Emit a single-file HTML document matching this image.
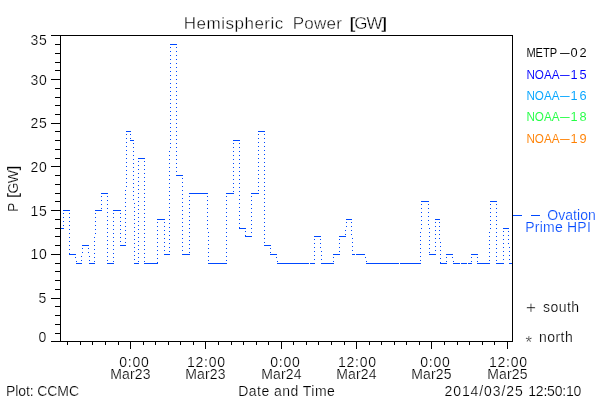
<!DOCTYPE html><html><head><meta charset="utf-8"><title>Hemispheric Power</title>
<style>html,body{margin:0;padding:0;background:#fff}svg{display:block;will-change:transform}text{font-family:"Liberation Sans",sans-serif;}</style></head><body>
<svg width="600" height="400" viewBox="0 0 600 400">
<rect width="600" height="400" fill="#fff"/>
<g shape-rendering="crispEdges" fill="#000">
<rect x="51" y="35" width="462" height="1"/>
<rect x="51" y="341" width="462" height="1"/>
<rect x="60" y="35" width="1" height="307"/>
<rect x="512" y="35" width="1" height="307"/>
<rect x="51" y="341" width="9" height="1"/>
<rect x="55" y="333" width="5" height="1"/>
<rect x="55" y="324" width="5" height="1"/>
<rect x="55" y="315" width="5" height="1"/>
<rect x="55" y="306" width="5" height="1"/>
<rect x="51" y="298" width="9" height="1"/>
<rect x="55" y="289" width="5" height="1"/>
<rect x="55" y="280" width="5" height="1"/>
<rect x="55" y="271" width="5" height="1"/>
<rect x="55" y="263" width="5" height="1"/>
<rect x="51" y="254" width="9" height="1"/>
<rect x="55" y="245" width="5" height="1"/>
<rect x="55" y="236" width="5" height="1"/>
<rect x="55" y="228" width="5" height="1"/>
<rect x="55" y="219" width="5" height="1"/>
<rect x="51" y="210" width="9" height="1"/>
<rect x="55" y="201" width="5" height="1"/>
<rect x="55" y="193" width="5" height="1"/>
<rect x="55" y="184" width="5" height="1"/>
<rect x="55" y="175" width="5" height="1"/>
<rect x="51" y="166" width="9" height="1"/>
<rect x="55" y="158" width="5" height="1"/>
<rect x="55" y="149" width="5" height="1"/>
<rect x="55" y="140" width="5" height="1"/>
<rect x="55" y="131" width="5" height="1"/>
<rect x="51" y="123" width="9" height="1"/>
<rect x="55" y="114" width="5" height="1"/>
<rect x="55" y="105" width="5" height="1"/>
<rect x="55" y="97" width="5" height="1"/>
<rect x="55" y="88" width="5" height="1"/>
<rect x="51" y="79" width="9" height="1"/>
<rect x="55" y="70" width="5" height="1"/>
<rect x="55" y="62" width="5" height="1"/>
<rect x="55" y="53" width="5" height="1"/>
<rect x="55" y="44" width="5" height="1"/>
<rect x="51" y="35" width="9" height="1"/>
<rect x="67" y="341" width="1" height="4"/>
<rect x="80" y="341" width="1" height="4"/>
<rect x="92" y="341" width="1" height="4"/>
<rect x="105" y="341" width="1" height="4"/>
<rect x="118" y="341" width="1" height="4"/>
<rect x="130" y="341" width="1" height="8"/>
<rect x="143" y="341" width="1" height="4"/>
<rect x="155" y="341" width="1" height="4"/>
<rect x="168" y="341" width="1" height="4"/>
<rect x="180" y="341" width="1" height="4"/>
<rect x="193" y="341" width="1" height="4"/>
<rect x="205" y="341" width="1" height="8"/>
<rect x="218" y="341" width="1" height="4"/>
<rect x="231" y="341" width="1" height="4"/>
<rect x="243" y="341" width="1" height="4"/>
<rect x="256" y="341" width="1" height="4"/>
<rect x="268" y="341" width="1" height="4"/>
<rect x="281" y="341" width="1" height="8"/>
<rect x="293" y="341" width="1" height="4"/>
<rect x="306" y="341" width="1" height="4"/>
<rect x="318" y="341" width="1" height="4"/>
<rect x="331" y="341" width="1" height="4"/>
<rect x="344" y="341" width="1" height="4"/>
<rect x="356" y="341" width="1" height="8"/>
<rect x="369" y="341" width="1" height="4"/>
<rect x="381" y="341" width="1" height="4"/>
<rect x="394" y="341" width="1" height="4"/>
<rect x="406" y="341" width="1" height="4"/>
<rect x="419" y="341" width="1" height="4"/>
<rect x="431" y="341" width="1" height="8"/>
<rect x="444" y="341" width="1" height="4"/>
<rect x="457" y="341" width="1" height="4"/>
<rect x="469" y="341" width="1" height="4"/>
<rect x="482" y="341" width="1" height="4"/>
<rect x="494" y="341" width="1" height="4"/>
<rect x="507" y="341" width="1" height="8"/>
</g>
<g shape-rendering="crispEdges" fill="#0048ff" stroke="#0048ff" stroke-width="1">
<rect x="61" y="228" width="3" height="1" stroke="none"/>
<rect x="63" y="210" width="7" height="1" stroke="none"/>
<rect x="69" y="254" width="7" height="1" stroke="none"/>
<rect x="76" y="263" width="6" height="1" stroke="none"/>
<rect x="82" y="245" width="7" height="1" stroke="none"/>
<rect x="89" y="263" width="6" height="1" stroke="none"/>
<rect x="95" y="210" width="7" height="1" stroke="none"/>
<rect x="101" y="193" width="7" height="1" stroke="none"/>
<rect x="107" y="263" width="7" height="1" stroke="none"/>
<rect x="113" y="210" width="8" height="1" stroke="none"/>
<rect x="120" y="245" width="6" height="1" stroke="none"/>
<rect x="126" y="131" width="5" height="1" stroke="none"/>
<rect x="130" y="140" width="4" height="1" stroke="none"/>
<rect x="134" y="263" width="5" height="1" stroke="none"/>
<rect x="138" y="158" width="7" height="1" stroke="none"/>
<rect x="144" y="263" width="14" height="1" stroke="none"/>
<rect x="157" y="219" width="8" height="1" stroke="none"/>
<rect x="164" y="254" width="6" height="1" stroke="none"/>
<rect x="170" y="44" width="7" height="1" stroke="none"/>
<rect x="176" y="175" width="7" height="1" stroke="none"/>
<rect x="182" y="254" width="8" height="1" stroke="none"/>
<rect x="189" y="193" width="19" height="1" stroke="none"/>
<rect x="208" y="263" width="19" height="1" stroke="none"/>
<rect x="226" y="193" width="8" height="1" stroke="none"/>
<rect x="233" y="140" width="7" height="1" stroke="none"/>
<rect x="239" y="228" width="7" height="1" stroke="none"/>
<rect x="245" y="236" width="7" height="1" stroke="none"/>
<rect x="251" y="193" width="8" height="1" stroke="none"/>
<rect x="258" y="131" width="7" height="1" stroke="none"/>
<rect x="264" y="245" width="7" height="1" stroke="none"/>
<rect x="270" y="254" width="7" height="1" stroke="none"/>
<rect x="277" y="263" width="32" height="1" stroke="none"/>
<rect x="310" y="263" width="5" height="1" stroke="none"/>
<rect x="314" y="236" width="7" height="1" stroke="none"/>
<rect x="321" y="263" width="13" height="1" stroke="none"/>
<rect x="333" y="254" width="7" height="1" stroke="none"/>
<rect x="339" y="236" width="7" height="1" stroke="none"/>
<rect x="346" y="219" width="6" height="1" stroke="none"/>
<rect x="352" y="254" width="3" height="1" stroke="none"/>
<rect x="356" y="254" width="9" height="1" stroke="none"/>
<rect x="366" y="263" width="33" height="1" stroke="none"/>
<rect x="400" y="263" width="21" height="1" stroke="none"/>
<rect x="421" y="201" width="8" height="1" stroke="none"/>
<rect x="429" y="254" width="7" height="1" stroke="none"/>
<rect x="435" y="219" width="5" height="1" stroke="none"/>
<rect x="440" y="263" width="7" height="1" stroke="none"/>
<rect x="446" y="254" width="7" height="1" stroke="none"/>
<rect x="453" y="263" width="7" height="1" stroke="none"/>
<rect x="461" y="263" width="6" height="1" stroke="none"/>
<rect x="468" y="263" width="4" height="1" stroke="none"/>
<rect x="471" y="254" width="7" height="1" stroke="none"/>
<rect x="477" y="263" width="13" height="1" stroke="none"/>
<rect x="490" y="201" width="7" height="1" stroke="none"/>
<rect x="496" y="263" width="8" height="1" stroke="none"/>
<rect x="503" y="228" width="6" height="1" stroke="none"/>
<rect x="509" y="263" width="3" height="1" stroke="none"/>
<line x1="63.5" y1="211" x2="63.5" y2="228" stroke-dasharray="1 3" stroke-dashoffset="2"/>
<line x1="69.5" y1="211" x2="69.5" y2="254" stroke-dasharray="1 3" stroke-dashoffset="2"/>
<line x1="75.5" y1="255" x2="76.5" y2="263" stroke-dasharray="1 3" stroke-dashoffset="2"/>
<line x1="82.5" y1="246" x2="81.5" y2="263" stroke-dasharray="1 3" stroke-dashoffset="2"/>
<line x1="88.5" y1="246" x2="89.5" y2="263" stroke-dasharray="1 3" stroke-dashoffset="2"/>
<line x1="95.5" y1="211" x2="94.5" y2="263" stroke-dasharray="1 3" stroke-dashoffset="2"/>
<line x1="101.5" y1="194" x2="101.5" y2="210" stroke-dasharray="1 3" stroke-dashoffset="2"/>
<line x1="107.5" y1="194" x2="107.5" y2="263" stroke-dasharray="1 3" stroke-dashoffset="2"/>
<line x1="113.5" y1="211" x2="113.5" y2="263" stroke-dasharray="1 3" stroke-dashoffset="2"/>
<line x1="120.5" y1="211" x2="120.5" y2="245" stroke-dasharray="1 3" stroke-dashoffset="2"/>
<line x1="126.5" y1="132" x2="125.5" y2="245" stroke-dasharray="1 3" stroke-dashoffset="2"/>
<line x1="130.5" y1="132" x2="130.5" y2="140" stroke-dasharray="1 3" stroke-dashoffset="2"/>
<line x1="133.5" y1="141" x2="134.5" y2="263" stroke-dasharray="1 3" stroke-dashoffset="2"/>
<line x1="138.5" y1="159" x2="138.5" y2="263" stroke-dasharray="1 3" stroke-dashoffset="2"/>
<line x1="144.5" y1="159" x2="144.5" y2="263" stroke-dasharray="1 3" stroke-dashoffset="2"/>
<line x1="157.5" y1="220" x2="157.5" y2="263" stroke-dasharray="1 3" stroke-dashoffset="2"/>
<line x1="164.5" y1="220" x2="164.5" y2="254" stroke-dasharray="1 3" stroke-dashoffset="2"/>
<line x1="170.5" y1="45" x2="169.5" y2="254" stroke-dasharray="1 3" stroke-dashoffset="2"/>
<line x1="176.5" y1="45" x2="176.5" y2="175" stroke-dasharray="1 3" stroke-dashoffset="2"/>
<line x1="182.5" y1="176" x2="182.5" y2="254" stroke-dasharray="1 3" stroke-dashoffset="2"/>
<line x1="189.5" y1="194" x2="189.5" y2="254" stroke-dasharray="1 3" stroke-dashoffset="2"/>
<line x1="207.5" y1="194" x2="208.5" y2="263" stroke-dasharray="1 3" stroke-dashoffset="2"/>
<line x1="226.5" y1="194" x2="226.5" y2="263" stroke-dasharray="1 3" stroke-dashoffset="2"/>
<line x1="233.5" y1="141" x2="233.5" y2="193" stroke-dasharray="1 3" stroke-dashoffset="2"/>
<line x1="239.5" y1="141" x2="239.5" y2="228" stroke-dasharray="1 3" stroke-dashoffset="2"/>
<line x1="245.5" y1="229" x2="245.5" y2="236" stroke-dasharray="1 3" stroke-dashoffset="2"/>
<line x1="251.5" y1="194" x2="251.5" y2="236" stroke-dasharray="1 3" stroke-dashoffset="2"/>
<line x1="258.5" y1="132" x2="258.5" y2="193" stroke-dasharray="1 3" stroke-dashoffset="2"/>
<line x1="264.5" y1="132" x2="264.5" y2="245" stroke-dasharray="1 3" stroke-dashoffset="2"/>
<line x1="270.5" y1="246" x2="270.5" y2="254" stroke-dasharray="1 3" stroke-dashoffset="2"/>
<line x1="276.5" y1="255" x2="277.5" y2="263" stroke-dasharray="1 3" stroke-dashoffset="2"/>
<line x1="314.5" y1="237" x2="314.5" y2="263" stroke-dasharray="1 3" stroke-dashoffset="2"/>
<line x1="320.5" y1="237" x2="321.5" y2="263" stroke-dasharray="1 3" stroke-dashoffset="2"/>
<line x1="333.5" y1="255" x2="333.5" y2="263" stroke-dasharray="1 3" stroke-dashoffset="2"/>
<line x1="339.5" y1="237" x2="339.5" y2="254" stroke-dasharray="1 3" stroke-dashoffset="2"/>
<line x1="346.5" y1="220" x2="345.5" y2="236" stroke-dasharray="1 3" stroke-dashoffset="2"/>
<line x1="351.5" y1="220" x2="352.5" y2="254" stroke-dasharray="1 3" stroke-dashoffset="2"/>
<line x1="364.5" y1="255" x2="366.5" y2="263" stroke-dasharray="1 3" stroke-dashoffset="2"/>
<line x1="421.5" y1="202" x2="420.5" y2="263" stroke-dasharray="1 3" stroke-dashoffset="2"/>
<line x1="428.5" y1="202" x2="429.5" y2="254" stroke-dasharray="1 3" stroke-dashoffset="2"/>
<line x1="435.5" y1="220" x2="435.5" y2="254" stroke-dasharray="1 3" stroke-dashoffset="2"/>
<line x1="439.5" y1="220" x2="440.5" y2="263" stroke-dasharray="1 3" stroke-dashoffset="2"/>
<line x1="446.5" y1="255" x2="446.5" y2="263" stroke-dasharray="1 3" stroke-dashoffset="2"/>
<line x1="452.5" y1="255" x2="453.5" y2="263" stroke-dasharray="1 3" stroke-dashoffset="2"/>
<line x1="471.5" y1="255" x2="471.5" y2="263" stroke-dasharray="1 3" stroke-dashoffset="2"/>
<line x1="477.5" y1="255" x2="477.5" y2="263" stroke-dasharray="1 3" stroke-dashoffset="2"/>
<line x1="490.5" y1="202" x2="489.5" y2="263" stroke-dasharray="1 3" stroke-dashoffset="2"/>
<line x1="496.5" y1="202" x2="496.5" y2="263" stroke-dasharray="1 3" stroke-dashoffset="2"/>
<line x1="503.5" y1="229" x2="503.5" y2="263" stroke-dasharray="1 3" stroke-dashoffset="2"/>
<line x1="508.5" y1="229" x2="509.5" y2="263" stroke-dasharray="1 3" stroke-dashoffset="2"/>
<rect x="513" y="215" width="9" height="1" stroke="none"/>
</g>
<text x="183.8" y="29" font-size="17" fill="#000" stroke="#fff" stroke-width="0.35" textLength="99.5" lengthAdjust="spacing">Hemispheric</text>
<text x="292.8" y="29" font-size="17" fill="#000" stroke="#fff" stroke-width="0.35" textLength="49" lengthAdjust="spacing">Power</text>
<text x="349.8" y="29" font-size="17" fill="#000" stroke="#fff" stroke-width="0.35" textLength="37.2" lengthAdjust="spacing"><tspan font-weight="bold">[</tspan>GW<tspan font-weight="bold">]</tspan></text>
<text x="38.5" y="342" font-size="14" fill="#000" stroke="#fff" stroke-width="0.2" textLength="8.3" lengthAdjust="spacing">0</text>
<text x="38.5" y="303.1" font-size="14" fill="#000" stroke="#fff" stroke-width="0.2" textLength="8.3" lengthAdjust="spacing">5</text>
<text x="30.4" y="259.4" font-size="14" fill="#000" stroke="#fff" stroke-width="0.2" textLength="16.4" lengthAdjust="spacing">10</text>
<text x="30.4" y="215.7" font-size="14" fill="#000" stroke="#fff" stroke-width="0.2" textLength="16.4" lengthAdjust="spacing">15</text>
<text x="30.4" y="171.9" font-size="14" fill="#000" stroke="#fff" stroke-width="0.2" textLength="16.4" lengthAdjust="spacing">20</text>
<text x="30.4" y="128.2" font-size="14" fill="#000" stroke="#fff" stroke-width="0.2" textLength="16.4" lengthAdjust="spacing">25</text>
<text x="30.4" y="84.5" font-size="14" fill="#000" stroke="#fff" stroke-width="0.2" textLength="16.4" lengthAdjust="spacing">30</text>
<text x="30.4" y="44.6" font-size="14" fill="#000" stroke="#fff" stroke-width="0.2" textLength="16.4" lengthAdjust="spacing">35</text>
<text transform="translate(18,212) rotate(-90)" font-size="14" stroke="#fff" stroke-width="0.2">P</text>
<text transform="translate(18,197.8) rotate(-90)" font-size="14" stroke="#fff" stroke-width="0.2" textLength="32" lengthAdjust="spacing"><tspan font-weight="bold">[</tspan>GW<tspan font-weight="bold">]</tspan></text>
<text x="119.2" y="367" font-size="14" fill="#000" stroke="#fff" stroke-width="0.2" textLength="29.6" lengthAdjust="spacing">0:00</text>
<text x="110.2" y="379" font-size="14" fill="#000" stroke="#fff" stroke-width="0.2" textLength="40.4" lengthAdjust="spacing">Mar23</text>
<text x="187" y="367" font-size="14" fill="#000" stroke="#fff" stroke-width="0.2" textLength="38" lengthAdjust="spacing">12:00</text>
<text x="185.2" y="379" font-size="14" fill="#000" stroke="#fff" stroke-width="0.2" textLength="40.4" lengthAdjust="spacing">Mar23</text>
<text x="270.2" y="367" font-size="14" fill="#000" stroke="#fff" stroke-width="0.2" textLength="29.6" lengthAdjust="spacing">0:00</text>
<text x="261.2" y="379" font-size="14" fill="#000" stroke="#fff" stroke-width="0.2" textLength="40.4" lengthAdjust="spacing">Mar24</text>
<text x="338" y="367" font-size="14" fill="#000" stroke="#fff" stroke-width="0.2" textLength="38" lengthAdjust="spacing">12:00</text>
<text x="336.2" y="379" font-size="14" fill="#000" stroke="#fff" stroke-width="0.2" textLength="40.4" lengthAdjust="spacing">Mar24</text>
<text x="420.2" y="367" font-size="14" fill="#000" stroke="#fff" stroke-width="0.2" textLength="29.6" lengthAdjust="spacing">0:00</text>
<text x="411.2" y="379" font-size="14" fill="#000" stroke="#fff" stroke-width="0.2" textLength="40.4" lengthAdjust="spacing">Mar25</text>
<text x="489" y="367" font-size="14" fill="#000" stroke="#fff" stroke-width="0.2" textLength="38" lengthAdjust="spacing">12:00</text>
<text x="487.2" y="379" font-size="14" fill="#000" stroke="#fff" stroke-width="0.2" textLength="40.4" lengthAdjust="spacing">Mar25</text>
<text x="6" y="396" font-size="14" fill="#000" stroke="#fff" stroke-width="0.2" textLength="73" lengthAdjust="spacing">Plot: CCMC</text>
<text x="238.3" y="396" font-size="14" fill="#000" stroke="#fff" stroke-width="0.2" textLength="96.5" lengthAdjust="spacing">Date and Time</text>
<text x="444.5" y="396" font-size="14" fill="#000" stroke="#fff" stroke-width="0.2" textLength="78.2" lengthAdjust="spacing">2014/03/25</text>
<text x="528.3" y="396" font-size="14" fill="#000" stroke="#fff" stroke-width="0.2" textLength="53" lengthAdjust="spacing">12:50:10</text>
<text x="526.4" y="57" font-size="12.8" fill="#000" stroke="#fff" stroke-width="0.05" textLength="30.8" lengthAdjust="spacingAndGlyphs">METP</text>
<text x="560" y="57" font-size="12.8" fill="#000" stroke="#fff" stroke-width="0.05" textLength="9.7" lengthAdjust="spacingAndGlyphs">–</text>
<text x="570.4" y="57" font-size="12.8" fill="#000" stroke="#fff" stroke-width="0.05" textLength="16.2" lengthAdjust="spacing">02</text>
<text x="526.4" y="79" font-size="12.8" fill="#0000ff" stroke="#fff" stroke-width="0.05" textLength="33.2" lengthAdjust="spacingAndGlyphs">NOAA</text>
<text x="560" y="79" font-size="12.8" fill="#0000ff" stroke="#fff" stroke-width="0.05" textLength="9.7" lengthAdjust="spacingAndGlyphs">–</text>
<text x="570.4" y="79" font-size="12.8" fill="#0000ff" stroke="#fff" stroke-width="0.05" textLength="16.2" lengthAdjust="spacing">15</text>
<text x="526.4" y="100" font-size="12.8" fill="#00a4ff" stroke="#fff" stroke-width="0.05" textLength="33.2" lengthAdjust="spacingAndGlyphs">NOAA</text>
<text x="560" y="100" font-size="12.8" fill="#00a4ff" stroke="#fff" stroke-width="0.05" textLength="9.7" lengthAdjust="spacingAndGlyphs">–</text>
<text x="570.4" y="100" font-size="12.8" fill="#00a4ff" stroke="#fff" stroke-width="0.05" textLength="16.2" lengthAdjust="spacing">16</text>
<text x="526.4" y="121.4" font-size="12.8" fill="#22ff44" stroke="#fff" stroke-width="0.05" textLength="33.2" lengthAdjust="spacingAndGlyphs">NOAA</text>
<text x="560" y="121.4" font-size="12.8" fill="#22ff44" stroke="#fff" stroke-width="0.05" textLength="9.7" lengthAdjust="spacingAndGlyphs">–</text>
<text x="570.4" y="121.4" font-size="12.8" fill="#22ff44" stroke="#fff" stroke-width="0.05" textLength="16.2" lengthAdjust="spacing">18</text>
<text x="526.4" y="142.8" font-size="12.8" fill="#ff8000" stroke="#fff" stroke-width="0.05" textLength="33.2" lengthAdjust="spacingAndGlyphs">NOAA</text>
<text x="560" y="142.8" font-size="12.8" fill="#ff8000" stroke="#fff" stroke-width="0.05" textLength="9.7" lengthAdjust="spacingAndGlyphs">–</text>
<text x="570.4" y="142.8" font-size="12.8" fill="#ff8000" stroke="#fff" stroke-width="0.05" textLength="16.2" lengthAdjust="spacing">19</text>
<text x="531" y="219.1" font-size="14" fill="#0048ff" stroke="#fff" stroke-width="0" textLength="9" lengthAdjust="spacingAndGlyphs">–</text>
<text x="547.3" y="219.6" font-size="14" fill="#0048ff" stroke="#fff" stroke-width="0.2" textLength="48.5" lengthAdjust="spacing">Ovation</text>
<text x="525.3" y="231.6" font-size="14" fill="#0048ff" stroke="#fff" stroke-width="0.2" textLength="65.5" lengthAdjust="spacing">Prime HPI</text>
<text x="526" y="312.7" font-size="17" fill="#000" stroke="#fff" stroke-width="0.35">+</text>
<text x="543" y="312" font-size="14" fill="#000" stroke="#fff" stroke-width="0.2" textLength="36" lengthAdjust="spacing">south</text>
<text x="525.6" y="347.8" font-size="17" fill="#000" stroke="#fff" stroke-width="0.35">*</text>
<text x="539" y="342" font-size="14" fill="#000" stroke="#fff" stroke-width="0.2" textLength="33.7" lengthAdjust="spacing">north</text>
</svg></body></html>
